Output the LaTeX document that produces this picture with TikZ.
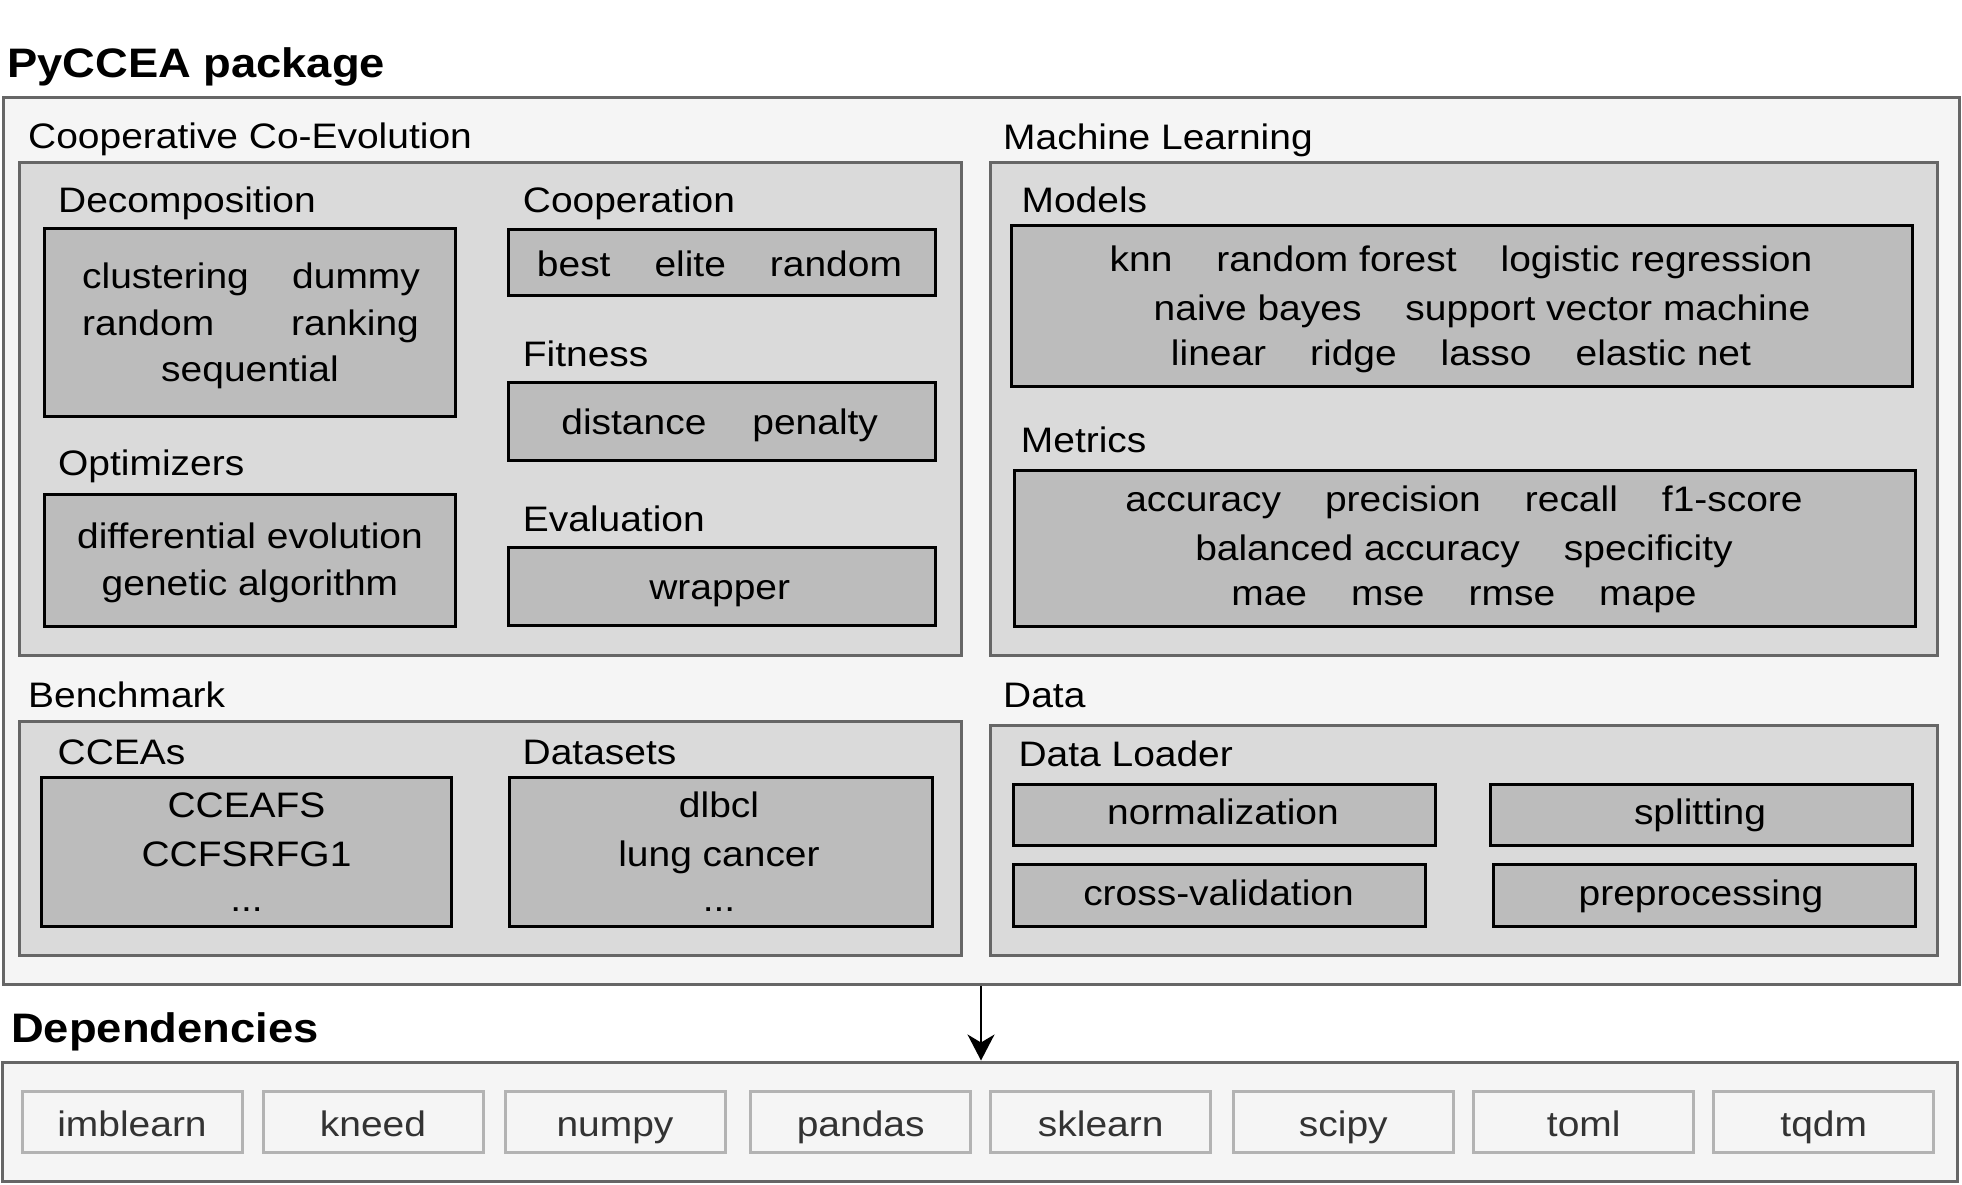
\documentclass[tikz,border=0pt]{standalone}
\usepackage{fontspec}
\setmainfont{Liberation Sans}[FakeStretch=1.10]
\usetikzlibrary{fit,arrows.meta}
\definecolor{outerfill}{HTML}{F5F5F5}
\definecolor{outerdraw}{HTML}{666666}
\definecolor{groupfill}{HTML}{DADADA}
\definecolor{innerfill}{HTML}{BCBCBC}
\definecolor{depdraw}{HTML}{B3B3B3}
\definecolor{deptext}{HTML}{333333}
\newcommand\nsz{\fontsize{35.4}{42}\selectfont}
\newcommand\bsz{\fontsize{41.2}{48}\selectfont\bfseries}
\newcommand\gp{\hspace{44pt}}
\begin{document}
\begin{tikzpicture}[x=1pt,y=-1pt,
  outerbox/.style={draw=outerdraw, fill=outerfill, line width=3pt, inner sep=0pt},
  groupbox/.style={draw=outerdraw, fill=groupfill, line width=3pt, inner sep=0pt},
  itembox/.style={draw=black, fill=innerfill, line width=3pt, inner sep=0pt},
  depbox/.style={draw=depdraw, fill=outerfill, line width=3pt, inner sep=0pt,
    minimum width=220pt, minimum height=61pt, text height=29pt, text depth=0pt,
    font=\nsz, text=deptext},
  title/.style={inner sep=0pt, anchor=base west, font=\bsz},
  lbl/.style={inner sep=0pt, anchor=base west, font=\nsz},
  txt/.style={inner sep=0pt, anchor=base, font=\nsz},
  arr/.style={-{Stealth[length=26pt,width=27pt,inset=8pt]}, line width=2pt}
]
\useasboundingbox (0,0) rectangle (1962,1185);
\fill[white] (0,0) rectangle (1962,1185);

% package
\node[title] (pkgtitle) at (7,78) {PyCCEA package};
\node[outerbox, fit={(3,98) (1959,984.5)}] (pkg) {};

% Cooperative Co-Evolution
\node[lbl] (ccelbl) at (28,149) {Cooperative Co-Evolution};
\node[groupbox, fit={(19,163) (961,655.5)}] (cce) {};
\node[lbl] (decomplbl) at (58,212.7) {Decomposition};
\node[itembox, fit={(44,229) (455,416)}] (decomp) {};
\node[lbl] (d1a) at (82,288) {clustering};
\node[lbl] (d1b) at (292,288) {dummy};
\node[lbl] (d2a) at (82,335) {random};
\node[lbl] (d2b) at (291,335) {ranking};
\node[txt] (d3) at (250,381) {sequential};

\node[lbl] (optlbl) at (58,475) {Optimizers};
\node[itembox, fit={(44,494) (455,626)}] (opt) {};
\node[txt] (o1) at (250,548.3) {differential evolution};
\node[txt] (o2) at (250,595.7) {genetic algorithm};

\node[lbl] (cooplbl) at (522.7,212.7) {Cooperation};
\node[itembox, fit={(508.3,229.3) (935,295.7)}] (coop) {};
\node[txt] (c1) at (719.5,276) {best\gp elite\gp random};

\node[lbl] (fitlbl) at (522.7,366) {Fitness};
\node[itembox, fit={(508.3,382.3) (935,460.7)}] (fitbox) {};
\node[txt] (f1) at (719.7,434.3) {distance\hspace{46pt}penalty};

\node[lbl] (evallbl) at (522.7,531) {Evaluation};
\node[itembox, fit={(508.3,547.3) (935,625)}] (evalbox) {};
\node[txt] (e1) at (719.7,599.3) {wrapper};

% Machine Learning
\node[lbl] (mllbl) at (1003,150) {Machine Learning};
\node[groupbox, fit={(990.7,163) (1937,655.7)}] (ml) {};
\node[lbl] (modlbl) at (1021.4,212.7) {Models};
\node[itembox, fit={(1011,226) (1912,386)}] (models) {};
\node[txt] (m1) at (1461,271.7) {knn\gp random forest\gp logistic regression};
\node[txt] (m2) at (1482,320) {naive bayes\gp support vector machine};
\node[txt] (m3) at (1461,365) {linear\gp ridge\gp lasso\gp elastic net};

\node[lbl] (metlbl) at (1020.7,452.7) {Metrics};
\node[itembox, fit={(1014,470) (1915.7,626)}] (metrics) {};
\node[txt] (t1) at (1464,511.7) {accuracy\gp precision\gp recall\gp f1-score};
\node[txt] (t2) at (1464,560) {balanced accuracy\gp specificity};
\node[txt] (t3) at (1464,605) {mae\gp mse\gp rmse\gp mape};

% Benchmark
\node[lbl] (benchlbl) at (28,707.3) {Benchmark};
\node[groupbox, fit={(19.5,721) (961,955)}] (bench) {};
\node[lbl] (ccealbl) at (57.5,764) {CCEAs};
\node[itembox, fit={(41.3,777.7) (451.3,926)}] (cceas) {};
\node[txt] (a1) at (246.5,817.3) {CCEAFS};
\node[txt] (a2) at (246.5,866.7) {CCFSRFG1};
\node[txt] (a3) at (246.5,911.7) {...};
\node[lbl] (dslbl) at (522.5,764) {Datasets};
\node[itembox, fit={(509.4,777.7) (932.5,926)}] (datasets) {};
\node[txt] (s1) at (719,817.3) {dlbcl};
\node[txt] (s2) at (719,866.7) {lung cancer};
\node[txt] (s3) at (719,911.7) {...};

% Data
\node[lbl] (datalbl) at (1003,707.3) {Data};
\node[groupbox, fit={(990.7,725) (1937.4,955)}] (data) {};
\node[lbl] (dllbl) at (1018.4,766.7) {Data Loader};
\node[itembox, fit={(1013.5,784.3) (1435.4,845.7)}] (norm) {};
\node[txt] (normt) at (1223,824) {normalization};
\node[itembox, fit={(1490.5,784.3) (1912.8,845.7)}] (split) {};
\node[txt] (splitt) at (1700,824) {splitting};
\node[itembox, fit={(1013.5,864.3) (1425.5,926)}] (cv) {};
\node[txt] (cvt) at (1218.5,905) {cross-validation};
\node[itembox, fit={(1493.3,864.3) (1915.5,926)}] (prep) {};
\node[txt] (prept) at (1701,905) {preprocessing};

% Dependencies
\node[title] (deptitle) at (11,1042.7) {Dependencies};
\node[outerbox, fit={(2,1062) (1957,1181.5)}] (deps) {};
\foreach \n/\cx/\t in {imb/132/imblearn, kneed/373/kneed, numpy/615/numpy,
    pandas/860.7/pandas, sklearn/1100.7/sklearn, scipy/1343.3/scipy,
    toml/1583.7/toml, tqdm/1823.7/tqdm}
  \node[depbox] (\n) at (\cx,1122.2) {\t};

\draw[arr] (pkg.south) -- (pkg.south |- deps.north);
\end{tikzpicture}
\end{document}
